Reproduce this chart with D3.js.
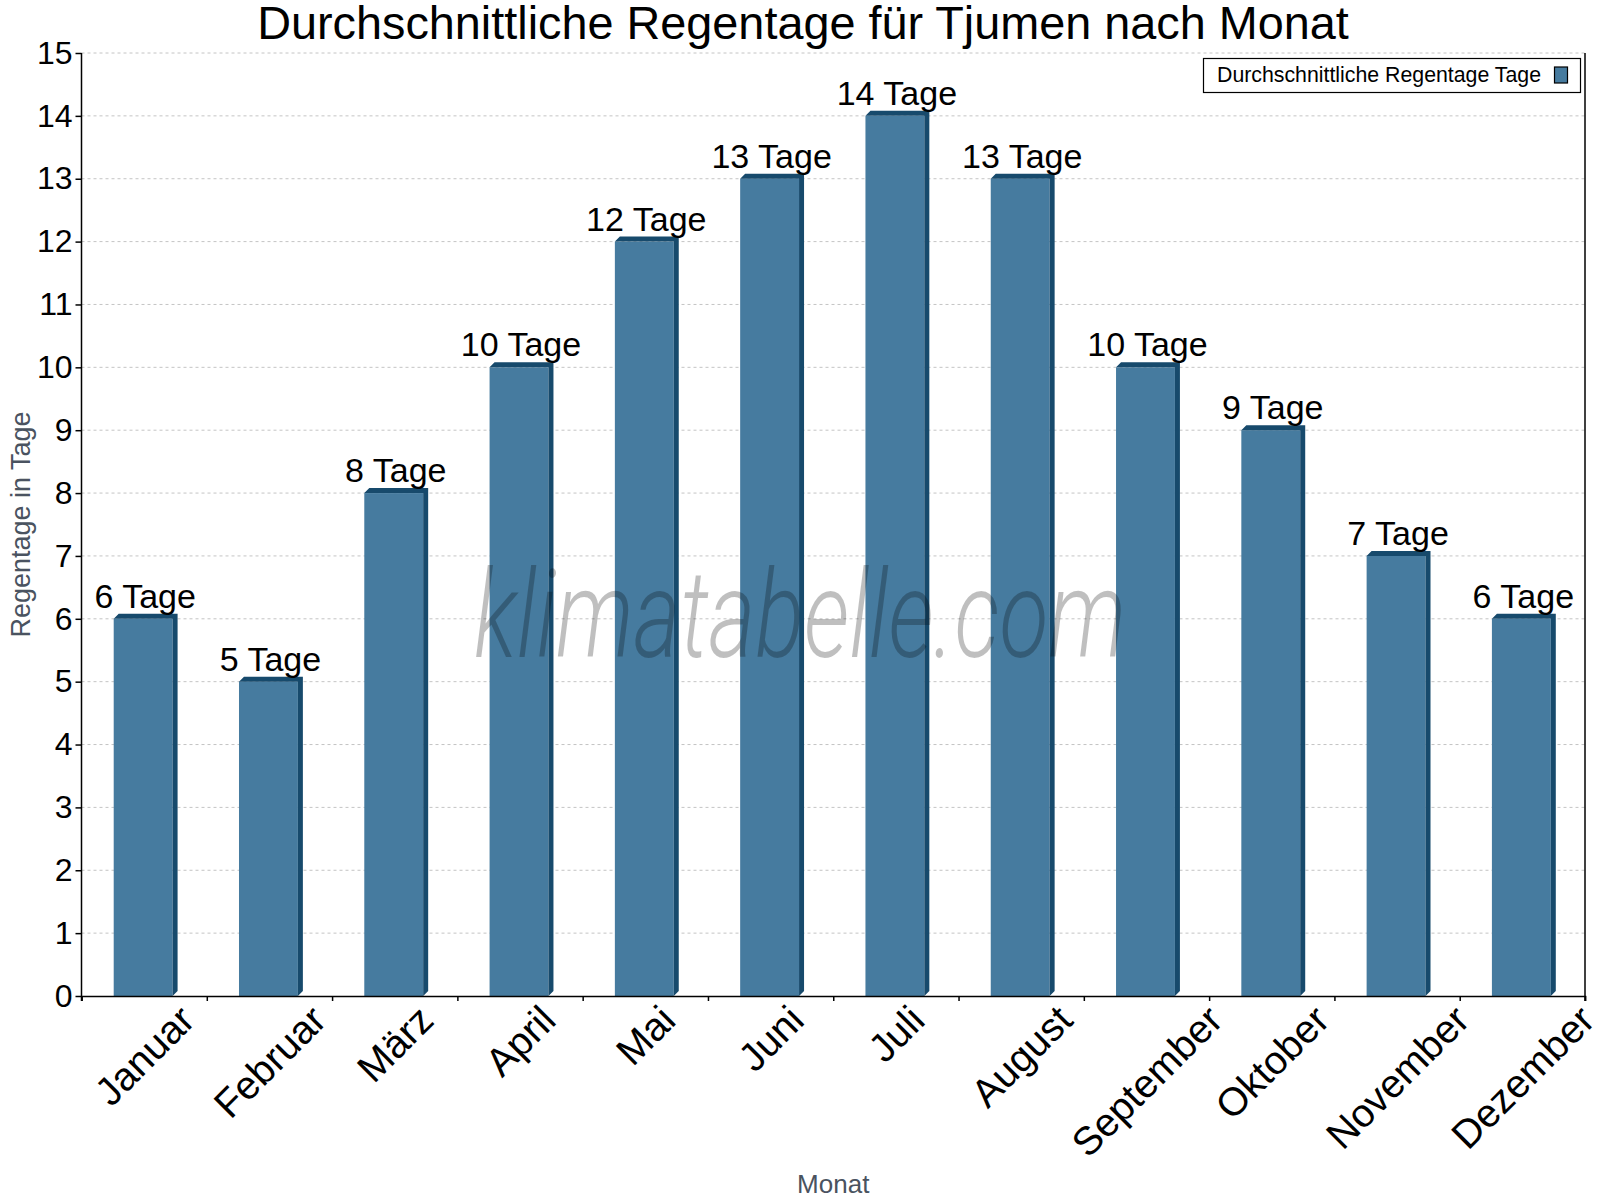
<!DOCTYPE html>
<html>
<head>
<meta charset="utf-8">
<script src="https://cdn.jsdelivr.net/npm/d3@7"></script>
<style>
  body { margin: 0; background: #fff; }
  text { font-family: "Liberation Sans", Arial, sans-serif; }
</style>
</head>
<body>
<script>
// chart data
var months = ["Januar", "Februar", "März", "April", "Mai", "Juni", "Juli",
              "August", "September", "Oktober", "November", "Dezember"];
var rainDays = [6, 5, 8, 10, 12, 13, 14, 13, 10, 9, 7, 6];
var yTicks = [0, 1, 2, 3, 4, 5, 6, 7, 8, 9, 10, 11, 12, 13, 14, 15];
var unit = "Tage";

var svgWidth = 1600;
var svgHeight = 1200;

var margin = { top: 53, right: 15, bottom: 204, left: 81.5 };
var chartwidth = svgWidth - margin.left - margin.right;
var chartheight = svgHeight - margin.top - margin.bottom;

var front = "#467b9f";
var dark = "#174a6c";

var svg = d3.select("body")
  .append("svg")
  .attr("width", svgWidth)
  .attr("height", svgHeight);

var chartGroup = svg.append("g")
  .attr("transform", `translate(${margin.left}, ${margin.top})`);

// scales
var xBand = d3.scaleBand()
  .domain(months)
  .range([0, chartwidth]);

var xEdges = d3.scaleLinear()
  .domain([0, months.length])
  .range([0, chartwidth]);

var yLinearScale = d3.scaleLinear()
  .domain([0, 15])
  .range([chartheight, 0]);

// grid lines
chartGroup.append("g")
  .selectAll("line")
  .data(yTicks.filter(d => d > 0))
  .enter()
  .append("line")
  .attr("x1", 0)
  .attr("x2", chartwidth)
  .attr("y1", d => yLinearScale(d))
  .attr("y2", d => yLinearScale(d))
  .attr("stroke", "#c4c4c4")
  .attr("stroke-width", 1)
  .attr("stroke-dasharray", "3,3");

// bars with a small 3d side and cap
var barW = xBand.bandwidth() * 0.47;
var depth = 5;

var bars = chartGroup.selectAll(".bar")
  .data(rainDays)
  .enter()
  .append("g")
  .attr("class", "bar");

bars.append("rect")
  .attr("x", (d, i) => xBand(months[i]) + xBand.bandwidth() / 2 - barW / 2 - 1)
  .attr("y", d => yLinearScale(d))
  .attr("width", barW)
  .attr("height", d => chartheight - yLinearScale(d))
  .attr("fill", front);

bars.append("path")
  .attr("fill", dark)
  .attr("d", function(d, i) {
    var x0 = xBand(months[i]) + xBand.bandwidth() / 2 - barW / 2 - 1;
    var x1 = x0 + barW;
    var top = yLinearScale(d);
    var bottom = chartheight;
    return `M${x0},${top} L${x0 + depth},${top - depth} L${x1 + depth},${top - depth}
            L${x1 + depth},${bottom - depth} L${x1},${bottom} L${x1},${top} Z`;
  });

// value labels
chartGroup.selectAll(".valueText")
  .data(rainDays)
  .enter()
  .append("text")
  .attr("class", "valueText")
  .attr("x", (d, i) => xBand(months[i]) + xBand.bandwidth() / 2 + 1)
  .attr("y", d => yLinearScale(d) - 11)
  .attr("text-anchor", "middle")
  .attr("font-size", "34px")
  .attr("fill", "#000")
  .text(d => d + " " + unit);

// watermark (drawn over the bars)
chartGroup.append("text")
  .attr("x", 800 - margin.left)
  .attr("y", 657 - margin.top)
  .attr("text-anchor", "middle")
  .attr("textLength", 652)
  .attr("lengthAdjust", "spacingAndGlyphs")
  .style("font-family", "Roboto, sans-serif")
  .style("font-style", "italic")
  .style("font-weight", 300)
  .style("font-size", "122px")
  .attr("fill", "rgba(0,0,0,0.25)")
  .text("klimatabelle.com");

// axes
var leftAxis = d3.axisLeft(yLinearScale)
  .tickValues(yTicks)
  .tickSize(6)
  .tickPadding(3)
  .tickFormat(d3.format("d"));

var yAxisG = chartGroup.append("g").call(leftAxis);
yAxisG.select(".domain").remove();
yAxisG.append("line")
  .attr("x1", 0).attr("x2", 0)
  .attr("y1", 0).attr("y2", chartheight + 5)
  .attr("stroke", "#000").attr("stroke-width", 1.5);
yAxisG.selectAll(".tick line").attr("stroke", "#000").attr("stroke-width", 1.5);
yAxisG.selectAll(".tick text")
  .attr("font-size", "32px")
  .attr("fill", "#000")
  .style("font-family", "'Liberation Sans', Arial, sans-serif");

var bottomAxis = d3.axisBottom(xEdges)
  .tickValues(d3.range(0, months.length + 1))
  .tickSize(5)
  .tickFormat("");

var xAxisG = chartGroup.append("g")
  .attr("transform", `translate(0, ${chartheight})`)
  .call(bottomAxis);
xAxisG.select(".domain").attr("stroke", "#000").attr("stroke-width", 1.5);
xAxisG.selectAll(".tick line").attr("stroke", "#000").attr("stroke-width", 1.5);

// right border
chartGroup.append("line")
  .attr("x1", chartwidth).attr("x2", chartwidth)
  .attr("y1", 0).attr("y2", chartheight + 5)
  .attr("stroke", "#000").attr("stroke-width", 1.5);

// month labels: rotated box centred under each band
chartGroup.selectAll(".monthText")
  .data(months)
  .enter()
  .append("text")
  .attr("class", "monthText")
  .attr("text-anchor", "end")
  .attr("font-size", "39.5px")
  .attr("fill", "#000")
  .text(d => d)
  .attr("transform", function(d) {
    var len = this.getComputedTextLength();
    var px = xBand(d) + xBand.bandwidth() / 2 + 0.3535 * len + 10;
    return `translate(${px}, ${chartheight + 26.5}) rotate(-45)`;
  });

// titles
svg.append("text")
  .attr("x", 803)
  .attr("y", 39)
  .attr("text-anchor", "middle")
  .attr("font-size", "46.8px")
  .attr("fill", "#000")
  .text("Durchschnittliche Regentage für Tjumen nach Monat");

svg.append("text")
  .attr("x", margin.left + chartwidth / 2)
  .attr("y", 1193)
  .attr("text-anchor", "middle")
  .attr("font-size", "26px")
  .attr("fill", "#4a5360")
  .text("Monat");

svg.append("text")
  .attr("transform", `translate(30, ${margin.top + chartheight / 2}) rotate(-90)`)
  .attr("text-anchor", "middle")
  .attr("font-size", "27px")
  .attr("fill", "#4a5360")
  .text("Regentage in Tage");

// legend
var legend = svg.append("g");
legend.append("rect")
  .attr("x", 1203.5).attr("y", 58.5)
  .attr("width", 377).attr("height", 34)
  .attr("fill", "#fff")
  .attr("stroke", "#000").attr("stroke-width", 1.2);
legend.append("text")
  .attr("x", 1217)
  .attr("y", 82)
  .attr("font-size", "21.3px")
  .attr("fill", "#000")
  .text("Durchschnittliche Regentage " + unit);
legend.append("rect")
  .attr("x", 1554.5).attr("y", 67)
  .attr("width", 13).attr("height", 16)
  .attr("fill", front)
  .attr("stroke", "#000").attr("stroke-width", 1.2);
</script>
</body>
</html>
